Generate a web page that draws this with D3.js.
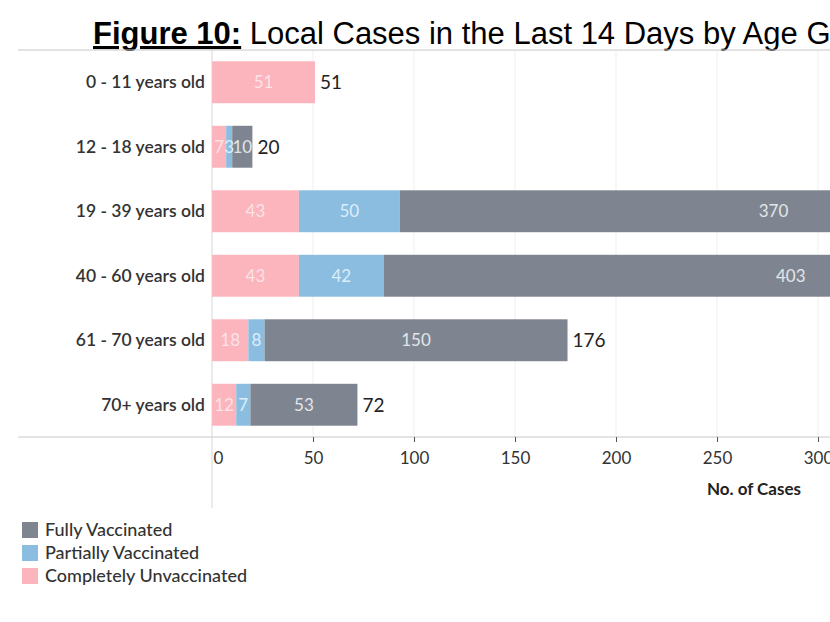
<!DOCTYPE html>
<html>
<head>
<meta charset="utf-8">
<script src="https://cdn.jsdelivr.net/npm/d3@7"></script>
<style>
  body { margin: 0; background: #fff; }
  svg { display: block; }
</style>
</head>
<body>
<div id="chart"></div>
<script>
// data
const ageGroups = ["0 - 11 years old", "12 - 18 years old", "19 - 39 years old", "40 - 60 years old", "61 - 70 years old", "70+ years old"];
const unvaccinated = [51, 7, 43, 43, 18, 12];
const partially = [0, 3, 50, 42, 8, 7];
const fully = [0, 10, 370, 403, 150, 53];
const xTicks = [0, 50, 100, 150, 200, 250, 300];
const seriesNames = ["Completely Unvaccinated", "Partially Vaccinated", "Fully Vaccinated"];
const seriesColors = ["#fcb4bd", "#8bbde0", "#7f8590"];
const labelColors = ["#fde3e7", "#dceefa", "#e2e5ea"];

const width = 830, height = 622;
const svg = d3.select("#chart").append("svg")
    .attr("width", width)
    .attr("height", height);

// scales
const x = d3.scaleLinear().domain([0, 300]).range([212, 818]);
const y = d3.scaleBand().domain(ageGroups).range([50, 437]).paddingInner(0.35).paddingOuter(0.175);

// title (runs off the right edge, as in the source image)
const title = svg.append("text")
    .attr("x", 93)
    .attr("y", 44)
    .style("font-family", "'Liberation Sans', Arial, sans-serif")
    .style("font-size", "31px")
    .attr("fill", "#000");
title.append("tspan").style("font-weight", "bold").style("text-decoration", "underline").text("Figure 10:");
title.append("tspan").text(" Local Cases in the Last 14 Days by Age Group");

// gridlines
svg.append("g").selectAll("line")
    .data(xTicks.slice(1))
    .join("line")
    .attr("x1", d => x(d)).attr("x2", d => x(d))
    .attr("y1", 50).attr("y2", 437)
    .attr("stroke", "#efefef");

// frame lines
svg.append("line").attr("x1", 18).attr("x2", width).attr("y1", 50).attr("y2", 50).attr("stroke", "#c8c8c8");
svg.append("line").attr("x1", 18).attr("x2", width).attr("y1", 437).attr("y2", 437).attr("stroke", "#c8c8c8");
svg.append("line").attr("x1", x(0)).attr("x2", x(0)).attr("y1", 50).attr("y2", 508).attr("stroke", "#d6d6d6");

// stacked bars
const rows = ageGroups.map((g, i) => ({ group: g, values: [unvaccinated[i], partially[i], fully[i]] }));
const stackData = rows.map(r => {
    let acc = 0;
    return r.values.map((v, k) => {
        const seg = { group: r.group, k, v, x0: acc, x1: acc + v };
        acc += v;
        return seg;
    });
}).flat().filter(d => d.v > 0);

const plot = svg.append("g");
plot.selectAll("rect")
    .data(stackData)
    .join("rect")
    .attr("x", d => x(d.x0))
    .attr("y", d => y(d.group))
    .attr("width", d => x(d.x1) - x(d.x0))
    .attr("height", y.bandwidth())
    .attr("fill", d => seriesColors[d.k]);

plot.selectAll("text.seg")
    .data(stackData)
    .join("text")
    .attr("class", "seg")
    .attr("x", d => (x(d.x0) + x(d.x1)) / 2)
    .attr("y", d => y(d.group) + y.bandwidth() / 2 + 6)
    .attr("text-anchor", "middle")
    .style("font-family", "Lato, sans-serif")
    .style("font-size", "17px")
    .attr("fill", d => labelColors[d.k])
    .text(d => d.v);

// totals (the two longest bars run past the frame, so their totals are not visible)
plot.selectAll("text.total")
    .data(rows.filter(d => x(d3.sum(d.values)) < width - 40))
    .join("text")
    .attr("class", "total")
    .attr("x", d => x(d3.sum(d.values)) + 5)
    .attr("y", d => y(d.group) + y.bandwidth() / 2 + 7)
    .style("font-family", "Lato, sans-serif")
    .style("font-size", "19px")
    .attr("fill", "#222")
    .text(d => d3.sum(d.values));

// category labels
svg.append("g").selectAll("text")
    .data(ageGroups)
    .join("text")
    .attr("x", 205)
    .attr("y", d => y(d) + y.bandwidth() / 2 + 6)
    .attr("text-anchor", "end")
    .style("font-family", "Lato, sans-serif")
    .style("font-size", "17.5px")
    .style("font-weight", "600")
    .attr("fill", "#333")
    .text(d => d);

// x axis
const xAxis = svg.append("g")
    .attr("transform", "translate(0,437)")
    .call(d3.axisBottom(x).tickValues(xTicks).tickSize(5).tickSizeOuter(0).tickPadding(10));
xAxis.select(".domain").remove();
xAxis.selectAll(".tick line").attr("stroke", "#555");
xAxis.selectAll(".tick text")
    .attr("text-anchor", d => d === 0 ? "start" : "middle")
    .attr("dx", d => d === 0 ? 1 : 0)
    .style("font-family", "Lato, sans-serif")
    .style("font-size", "17px")
    .attr("fill", "#333");
xAxis.selectAll(".tick").filter(d => d === 0).select("line").remove();

svg.append("text")
    .attr("x", 801)
    .attr("y", 495)
    .attr("text-anchor", "end")
    .style("font-family", "Lato, sans-serif")
    .style("font-size", "17px")
    .style("font-weight", "bold")
    .attr("fill", "#222")
    .text("No. of Cases");

// legend
const legendOrder = [2, 1, 0];
const legend = svg.append("g").selectAll("g")
    .data(legendOrder)
    .join("g")
    .attr("transform", (d, i) => `translate(22,${522 + i * 23})`);
legend.append("rect")
    .attr("width", 16).attr("height", 16)
    .attr("fill", d => seriesColors[d]);
legend.append("text")
    .attr("x", 23)
    .attr("y", 14)
    .style("font-family", "Lato, sans-serif")
    .style("font-size", "18px")
    .style("font-weight", "500")
    .attr("fill", "#333")
    .text(d => seriesNames[d]);
</script>
</body>
</html>
